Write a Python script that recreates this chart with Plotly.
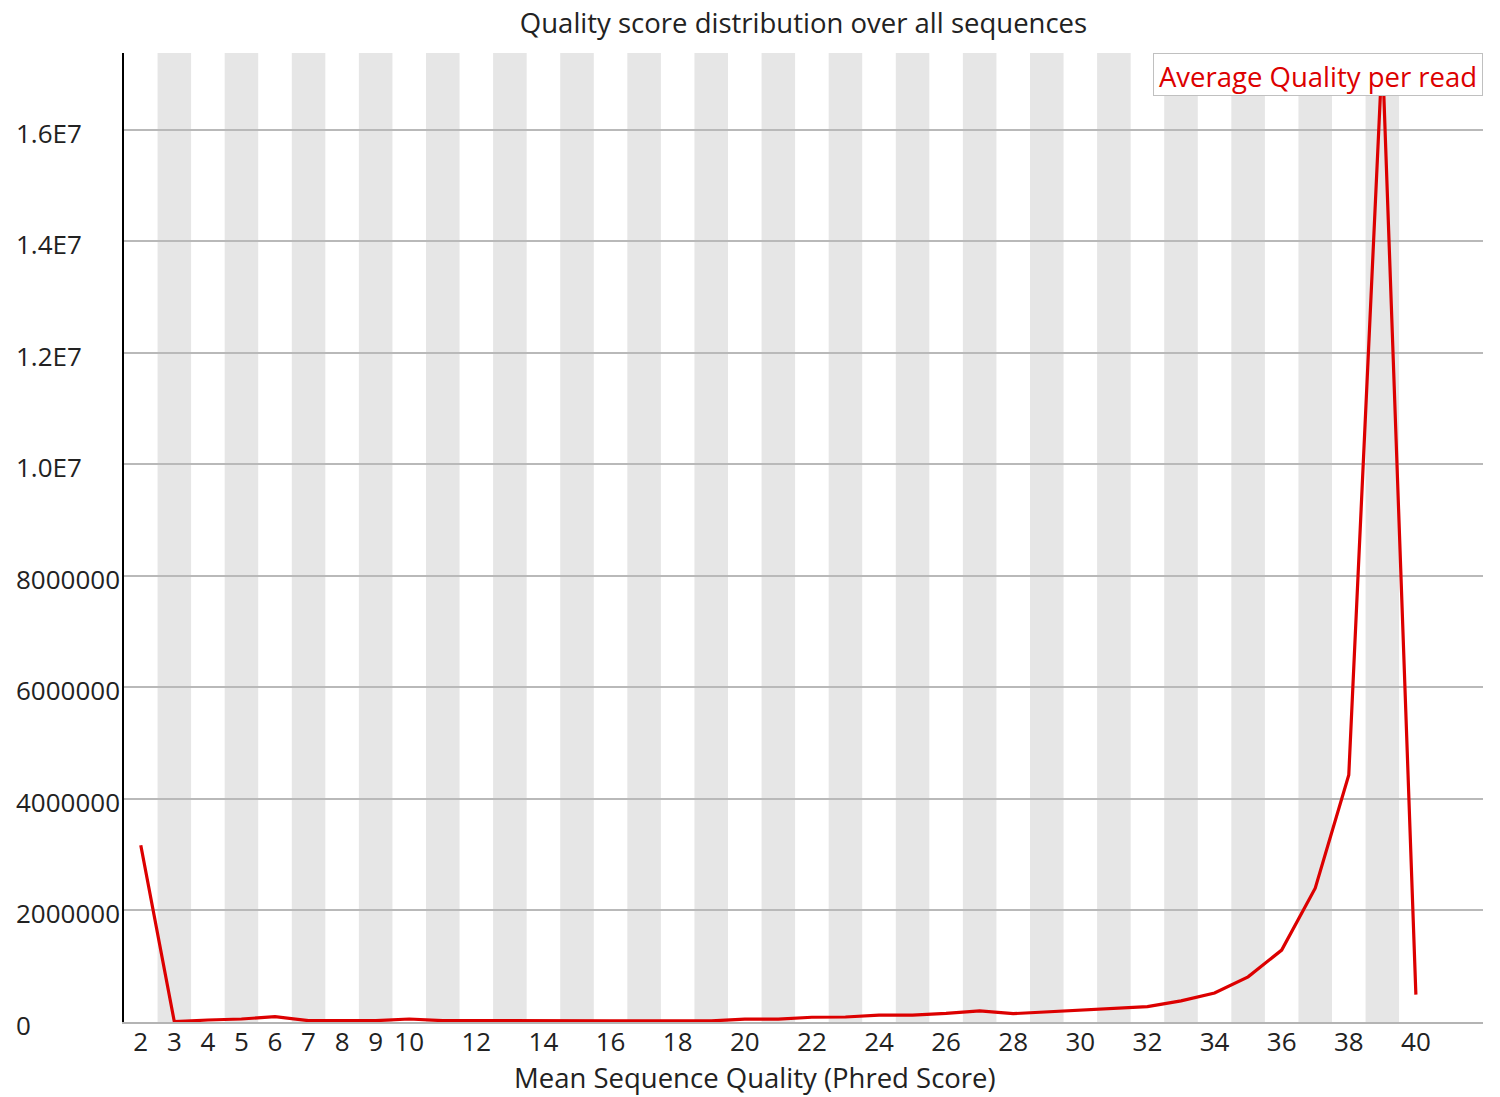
import plotly.graph_objects as go

# Per-read mean Phred quality and number of reads at each score
quality = list(range(2, 41))
read_counts = [
    3170000, 5000, 36000, 54000, 95000, 24000, 24000, 24000, 54000, 24000, 24000,  # 2-12
    20000, 20000, 20000, 20000, 20000, 20000, 20000,                                # 13-19
    50000, 50000, 85000, 90000, 125000, 125000, 155000, 200000, 150000, 180000,     # 20-29
    215000, 240000, 275000, 380000, 520000, 810000, 1290000, 2400000, 4430000,      # 30-38
    17380000, 490000,                                                               # 39-40
]

x_tick_labels = [str(q) for q in range(2, 11)] + [str(q) for q in range(12, 41, 2)]
y_tick_values = [0, 2000000, 4000000, 6000000, 8000000, 10000000, 12000000, 14000000, 16000000]
y_tick_labels = ["0", "2000000", "4000000", "6000000", "8000000", "1.0E7", "1.2E7", "1.4E7", "1.6E7"]

series_name = "Average Quality per read"
chart_title = "Quality score distribution over all sequences"
x_title = "Mean Sequence Quality (Phred Score)"

FONT = "Open Sans"
FS = 26          # tick labels
FS_TEXT = 27.5   # titles and key
W, H = 1500, 1097
ML, MR, MT, MB = 124, 17, 53, 75
PW = W - ML - MR
PH = H - MT - MB

fig = go.Figure()
fig.add_trace(go.Scatter(
    x=quality, y=read_counts, mode="lines", name=series_name,
    line=dict(color="rgb(220,0,0)", width=3.2), showlegend=False,
))

# Alternating grey bands behind odd scores
shapes = []
for q in quality:
    if q % 2 == 1:
        shapes.append(dict(type="rect", xref="x", yref="paper", x0=q - 0.5, x1=q + 0.5,
                           y0=0, y1=1, fillcolor="rgb(230,230,230)", line=dict(width=0),
                           layer="below"))

annotations = []
# Left-aligned y tick labels
for v, t in zip(y_tick_values, y_tick_labels):
    annotations.append(dict(xref="paper", yref="y", x=(14 - ML) / PW, y=v, text=t,
                            xanchor="left", yanchor="middle", yshift=-3, showarrow=False,
                            font=dict(family=FONT, size=FS, color="#222")))
# Axis title centred on the page
annotations.append(dict(xref="paper", yref="paper", x=(755 - ML) / PW,
                        y=-(1077 - (H - MB)) / PH,
                        text=x_title, xanchor="center", yanchor="middle", showarrow=False,
                        font=dict(family=FONT, size=FS_TEXT, color="#222")))
# Series key box
annotations.append(dict(xref="paper", yref="paper", x=1, y=1, xanchor="right", yanchor="top",
                        text=series_name, showarrow=False, align="center", valign="bottom",
                        width=328, height=41, borderpad=0, borderwidth=1,
                        bordercolor="rgb(192,192,192)", bgcolor="white",
                        font=dict(family=FONT, size=FS_TEXT, color="rgb(220,0,0)")))

fig.update_layout(
    width=W, height=H,
    margin=dict(l=ML, r=MR, t=MT, b=MB, pad=0),
    paper_bgcolor="white", plot_bgcolor="white",
    title=dict(text=chart_title, x=(ML + PW / 2) / W, xanchor="center", xref="container",
               y=1 - 23 / H, yanchor="middle", yref="container",
               font=dict(family=FONT, size=FS_TEXT, color="#222")),
    xaxis=dict(range=[1.5, 42.0], tickmode="array",
               tickvals=[int(t) for t in x_tick_labels], ticktext=x_tick_labels,
               showgrid=False, zeroline=False, showline=True,
               linecolor="rgb(180,180,180)", linewidth=2,
               ticks="", ticklabelstandoff=-4,
               tickfont=dict(family=FONT, size=FS, color="#222")),
    yaxis=dict(range=[0, 17380000], tickmode="array", tickvals=y_tick_values,
               showticklabels=False, showgrid=True, gridcolor="rgb(185,185,185)",
               gridwidth=2, zeroline=False, showline=True, linecolor="black", linewidth=1.5),
    shapes=shapes,
    annotations=annotations,
)

fig.write_html("out.html")
